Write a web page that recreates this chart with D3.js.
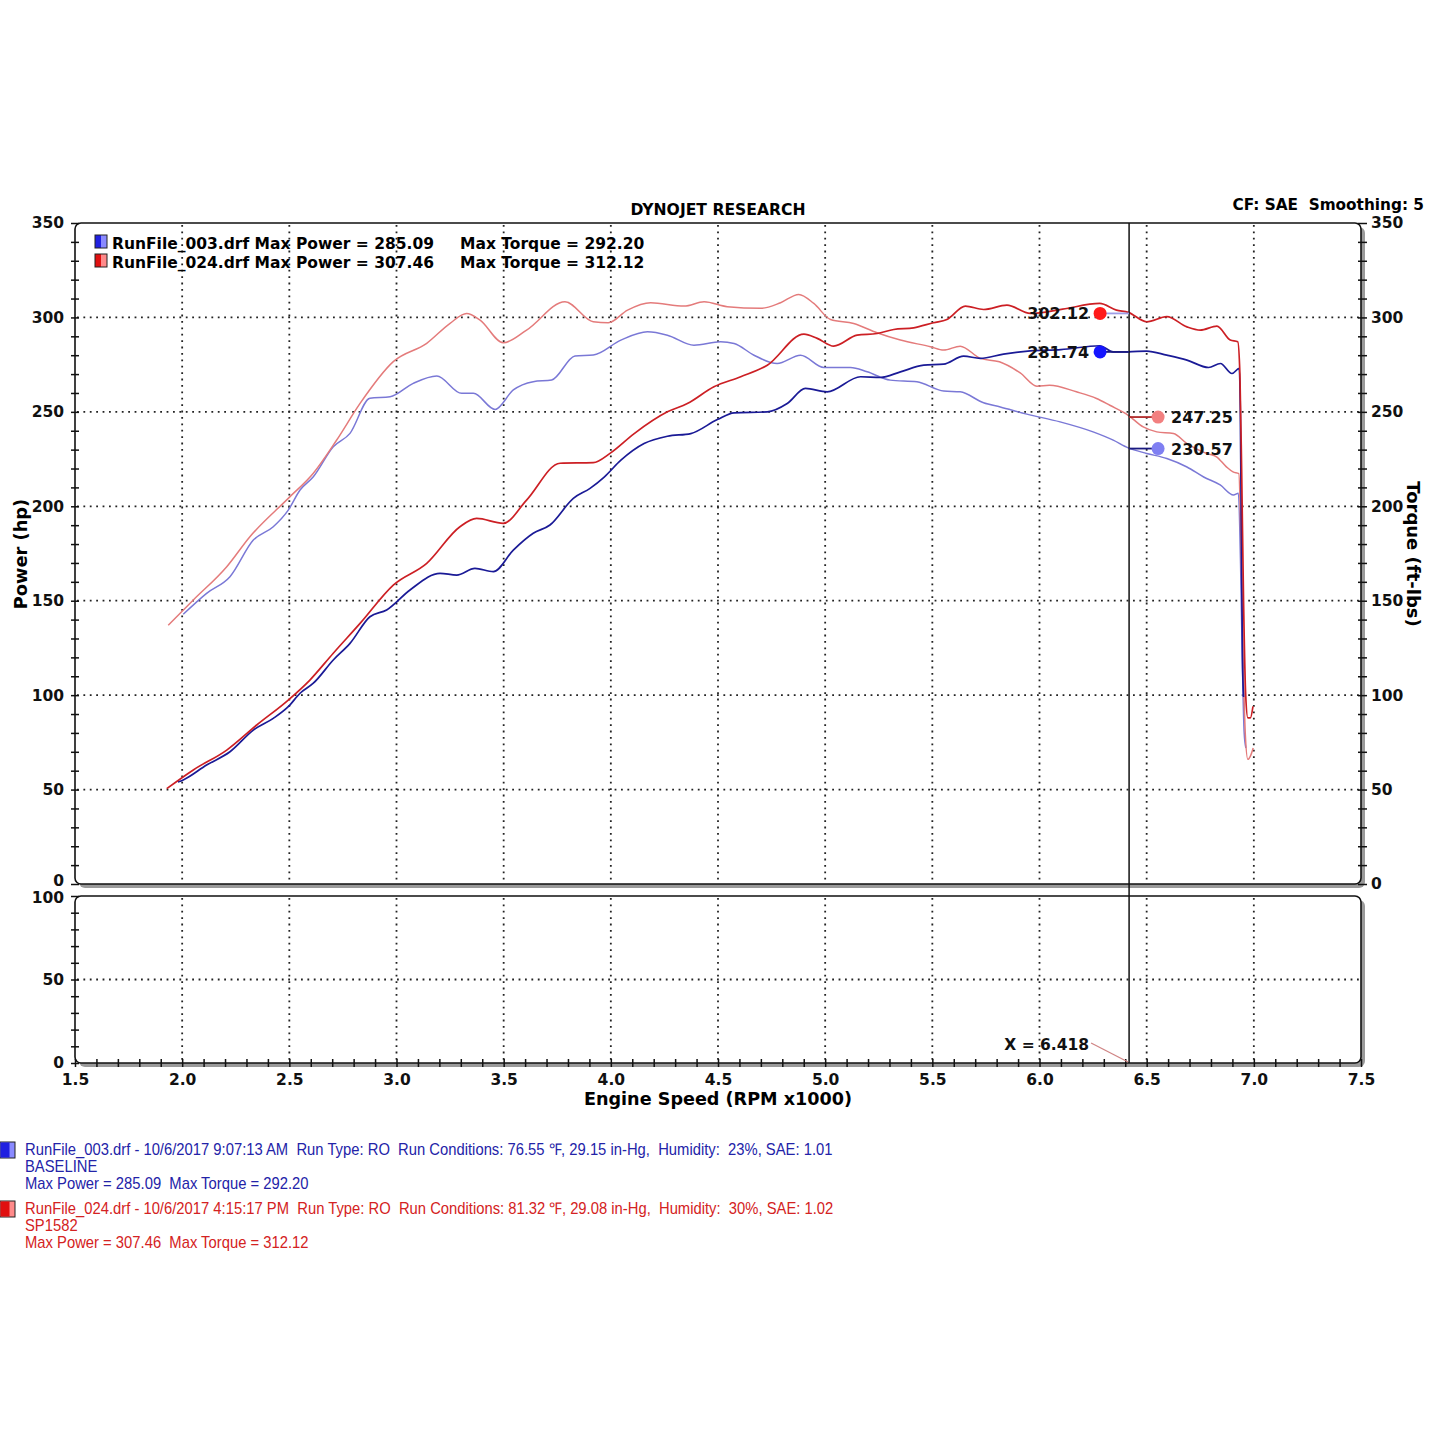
<!DOCTYPE html>
<html>
<head>
<meta charset="utf-8">
<script src="https://cdn.jsdelivr.net/npm/d3@7"></script>
<style>
  body { margin: 0; background: #fff; }
  text { font-family: "DejaVu Sans", Verdana, sans-serif; }
  .note { font-family: "Liberation Sans Narrow", "Arial Narrow", "Liberation Sans", sans-serif; font-size: 16px; }
</style>
</head>
<body>
<div id="chart"></div>
<script>
// values (rpm x1000, hp / ft-lbs)
var runNames = ["RunFile_003.drf", "RunFile_024.drf"];
var maxPower = [285.09, 307.46];
var maxTorque = [292.20, 312.12];
var cursorRpm = 6.418;
var cursorPower = [281.74, 302.12];
var cursorTorque = [230.57, 247.25];

var bluePower = [[1.98,54],[2.005,55.1],[2.114,63],[2.223,70],[2.332,81.5],[2.425,87.7],[2.495,93.9],[2.55,101],
  [2.612,106.3],[2.705,118.6],[2.783,127.4],[2.876,141.5],[2.954,145.1],[3.063,155.7],[3.203,164.5],[3.281,163.6],
  [3.366,167.1],[3.452,165.4],[3.545,176.8],[3.638,185.7],[3.716,190.1],[3.825,204.2],[3.903,209.5],[3.969,215.5],
  [4.047,224.4],[4.155,233.2],[4.264,237.1],[4.373,238.5],[4.497,245.9],[4.575,249.5],[4.73,250],[4.823,254.4],
  [4.908,262.4],[5.009,260.6],[5.165,268.6],[5.258,268.2],[5.351,271.2],[5.46,274.7],[5.553,275.3],[5.646,279.5],
  [5.724,278.3],[5.832,280.6],[5.957,282.3],[6.1,283],[6.281,285],[6.344,281.8],[6.414,281.8],[6.5,282.2],
  [6.594,280],[6.688,277.4],[6.789,273.5],[6.844,275.6],[6.898,270.3],[6.932,273],[6.937,250],[6.942,180],
  [6.947,120],[6.952,99]];

var redPower = [[1.928,50.5],[2.052,60.4],[2.208,70.9],[2.348,84.2],[2.495,97.4],[2.596,108],[2.705,122.2],
  [2.83,138],[2.985,158.3],[3.141,169.8],[3.296,189.2],[3.374,193.6],[3.498,191],[3.607,203.3],[3.763,222.8],
  [3.918,223.1],[3.996,228],[4.109,238.5],[4.264,250],[4.357,254.4],[4.481,263.3],[4.606,268.6],[4.73,274.7],
  [4.901,291.2],[4.963,288.9],[5.04,284.8],[5.149,290.6],[5.242,291.5],[5.32,293.6],[5.413,294.5],[5.506,297.2],
  [5.568,298.9],[5.654,306],[5.739,304.2],[5.848,306.5],[5.957,302.1],[6.108,304.4],[6.281,307.4],[6.359,303.9],
  [6.414,302.7],[6.5,297.7],[6.594,300.4],[6.688,295],[6.75,293.3],[6.828,295.4],[6.89,288],[6.925,287.1],
  [6.935,270],[6.943,220],[6.952,150],[6.962,100],[6.972,88],[6.984,88],[6.996,94]];

var blueTorque = [[2.005,142.8],[2.114,153.9],[2.223,162.7],[2.332,182.1],[2.425,189.2],[2.495,198],[2.55,208.6],
  [2.612,215.6],[2.705,231.5],[2.783,238.6],[2.876,257.2],[2.97,258],[3.078,265.1],[3.188,269],[3.304,259.8],
  [3.359,259.8],[3.46,251.3],[3.545,261.6],[3.638,266],[3.724,266.9],[3.833,279.6],[3.918,280.1],[4.047,288],
  [4.171,292.4],[4.264,290.6],[4.388,285.3],[4.512,287.1],[4.575,286.2],[4.668,280],[4.776,275.6],[4.885,280],
  [4.994,273.5],[5.118,273.5],[5.196,271.2],[5.304,266.8],[5.428,265.9],[5.553,261],[5.63,260.6],[5.739,254.8],
  [5.817,252.6],[5.941,248.8],[6.096,244.7],[6.25,239.4],[6.344,235],[6.414,230.9],[6.5,228],[6.594,225.3],
  [6.688,220.8],[6.766,215.5],[6.843,211.3],[6.905,206],[6.928,206.9],[6.938,170],[6.946,120],[6.955,80],
  [6.963,72]];

var redTorque = [[1.935,137],[2.052,150.4],[2.208,168],[2.316,183.9],[2.495,204.2],[2.612,217.5],[2.721,235.1],
  [2.83,254.5],[2.985,276.6],[3.141,286.3],[3.25,296.9],[3.327,302.1],[3.39,298.6],[3.498,286.6],[3.607,293.3],
  [3.786,308.3],[3.918,297.7],[3.988,297.2],[4.078,303.9],[4.186,307.8],[4.342,306],[4.435,308.3],[4.543,305.7],
  [4.699,304.8],[4.792,307.8],[4.877,312.2],[4.947,307.4],[5.025,298.9],[5.133,296.8],[5.242,291.9],[5.351,288],
  [5.491,284.5],[5.553,282.7],[5.63,284.8],[5.724,278.3],[5.813,276.5],[5.91,270.6],[5.988,263.6],[6.047,264.1],
  [6.172,260.6],[6.266,257.1],[6.328,253.5],[6.414,248.2],[6.484,242],[6.547,239.4],[6.625,238.5],[6.688,233.2],
  [6.781,227.9],[6.826,226.2],[6.872,220.9],[6.903,218.2],[6.93,217.3],[6.94,180],[6.95,120],[6.96,80],
  [6.972,66],[6.985,68],[6.997,72]];

var xTicks = [1.5, 2.0, 2.5, 3.0, 3.5, 4.0, 4.5, 5.0, 5.5, 6.0, 6.5, 7.0, 7.5];

var notesBlue = ["RunFile_003.drf - 10/6/2017 9:07:13 AM  Run Type: RO  Run Conditions: 76.55 \u2109, 29.15 in-Hg,  Humidity:  23%, SAE: 1.01",
  "BASELINE", "Max Power = 285.09  Max Torque = 292.20"];
var notesRed = ["RunFile_024.drf - 10/6/2017 4:15:17 PM  Run Type: RO  Run Conditions: 81.32 \u2109, 29.08 in-Hg,  Humidity:  30%, SAE: 1.02",
  "SP1582", "Max Power = 307.46  Max Torque = 312.12"];

var svgWidth = 1445, svgHeight = 1445;
var left = 75, right = 1361;
var topY = 223, topBottom = 884;
var lowTop = 896, lowBottom = 1063;

var svg = d3.select("#chart").append("svg")
  .attr("width", svgWidth)
  .attr("height", svgHeight)
  .style("background", "#fff");

var x = d3.scaleLinear().domain([1.5, 7.5]).range([left, right]);
var yTop = d3.scaleLinear().domain([0, 350]).range([topBottom, topY]);
var yLow = d3.scaleLinear().domain([0, 100]).range([lowBottom, lowTop]);

// panel frames with grey drop shadow
function panel(y0, y1) {
  svg.append("rect").attr("x", left + 4).attr("y", y0 + 4)
    .attr("width", right - left).attr("height", y1 - y0)
    .attr("rx", 6).attr("fill", "#9a9a9a");
  svg.append("rect").attr("x", left).attr("y", y0)
    .attr("width", right - left).attr("height", y1 - y0)
    .attr("rx", 6).attr("fill", "#fff").attr("stroke", "#111").attr("stroke-width", 1.6);
}
panel(topY, topBottom);
panel(lowTop, lowBottom);

// dotted grid
var grid = svg.append("g").attr("stroke", "#222").attr("stroke-width", 1.8).attr("stroke-dasharray", "1.8,4.6");
xTicks.slice(1, -1).forEach(function(t) {
  grid.append("line").attr("x1", x(t)).attr("x2", x(t)).attr("y1", topY + 2).attr("y2", topBottom - 1);
  grid.append("line").attr("x1", x(t)).attr("x2", x(t)).attr("y1", lowTop + 2).attr("y2", lowBottom - 1);
});
[50, 100, 150, 200, 250, 300].forEach(function(v) {
  grid.append("line").attr("x1", left + 2).attr("x2", right - 2).attr("y1", yTop(v)).attr("y2", yTop(v));
});
grid.append("line").attr("x1", left + 2).attr("x2", right - 2).attr("y1", yLow(50)).attr("y2", yLow(50));

// axes
function styleAxis(g, crossAttr, size) {
  g.select(".domain").remove();
  g.selectAll(".tick line").attr("stroke", "#111").attr("stroke-width", 1.5).attr(crossAttr, size);
  g.selectAll(".tick text").attr("fill", "#111").style("font-size", "15.5px").style("font-weight", "bold")
    .style("font-family", "'DejaVu Sans', Verdana, sans-serif");
}
var tickFmt = function(d) { return d % 50 === 0 ? d : ""; };

var leftTop = svg.append("g").attr("transform", "translate(" + left + ",0)")
  .call(d3.axisLeft(yTop).tickValues(d3.range(0, 351, 10)).tickSize(4).tickPadding(7).tickFormat(tickFmt));
styleAxis(leftTop, "x1", 4);
leftTop.selectAll(".tick text").filter(function(d) { return d === 0; }).attr("dy", "0.1em");

var rightTop = svg.append("g").attr("transform", "translate(" + (right + 2) + ",0)")
  .call(d3.axisRight(yTop).tickValues(d3.range(0, 351, 10)).tickSize(4).tickPadding(4).tickFormat(tickFmt));
styleAxis(rightTop, "x1", -5);

var leftLow = svg.append("g").attr("transform", "translate(" + left + ",0)")
  .call(d3.axisLeft(yLow).tickValues(d3.range(0, 101, 10)).tickSize(4).tickPadding(7).tickFormat(tickFmt));
styleAxis(leftLow, "x1", 4);
leftLow.selectAll(".tick text").filter(function(d) { return d === 100; }).attr("dy", "0.45em");

var bottom = svg.append("g").attr("transform", "translate(0," + lowBottom + ")")
  .call(d3.axisBottom(x).tickValues(d3.range(15, 76, 1).map(function(d) { return d / 10; }))
    .tickSize(4).tickPadding(6)
    .tickFormat(function(d) { return Math.round(d * 10) % 5 === 0 ? d.toFixed(1) : ""; }));
styleAxis(bottom, "y1", -4);
bottom.selectAll(".tick text").attr("dy", "0.78em");

// curves
var line = d3.line()
  .x(function(d) { return x(d[0]); })
  .y(function(d) { return yTop(d[1]); })
  .curve(d3.curveMonotoneX);

var curves = [
  { data: blueTorque, color: "#7a78d6", w: 1.5 },
  { data: redTorque, color: "#e47b7b", w: 1.5 },
  { data: bluePower, color: "#1a1a96", w: 1.7 },
  { data: redPower, color: "#cc1f24", w: 1.7 }
];
curves.forEach(function(c) {
  svg.append("path").datum(c.data).attr("d", line)
    .attr("fill", "none").attr("stroke", c.color).attr("stroke-width", c.w);
});

// cursor line
var cx = x(cursorRpm);
svg.append("line").attr("x1", cx).attr("x2", cx).attr("y1", topY).attr("y2", lowBottom)
  .attr("stroke", "#111").attr("stroke-width", 1.5);

// cursor readouts
var readouts = [
  { v: cursorPower[1], dot: "#ff1a1a", lead: "#9d9de6", side: -1 },
  { v: cursorPower[0], dot: "#1515ff", lead: "#1a1a80", side: -1 },
  { v: cursorTorque[1], dot: "#f28080", lead: "#b02a2a", side: 1 },
  { v: cursorTorque[0], dot: "#7f7ff2", lead: "#1a1a80", side: 1 }
];
readouts.forEach(function(r) {
  var yy = yTop(r.v);
  var dx = cx + r.side * 29;
  svg.append("line").attr("x1", cx).attr("x2", dx).attr("y1", yy).attr("y2", yy)
    .attr("stroke", r.lead).attr("stroke-width", 1.8);
  svg.append("circle").attr("cx", dx).attr("cy", yy).attr("r", 6.5).attr("fill", r.dot);
  svg.append("text").attr("x", r.side < 0 ? dx - 11 : dx + 13).attr("y", yy + 6)
    .attr("text-anchor", r.side < 0 ? "end" : "start")
    .style("font-size", "16px").style("font-weight", "bold").attr("fill", "#111")
    .text(r.v.toFixed(2));
});

// lower panel cursor label
svg.append("line").attr("x1", cx - 38).attr("x2", cx - 1).attr("y1", 1043).attr("y2", lowBottom - 1)
  .attr("stroke", "#d08585").attr("stroke-width", 1.3);
svg.append("text").attr("x", cx - 40).attr("y", 1050).attr("text-anchor", "end")
  .style("font-size", "15.5px").style("font-weight", "bold").attr("fill", "#111")
  .text("X = " + cursorRpm.toFixed(3));

// titles
svg.append("text").attr("x", 718).attr("y", 215).attr("text-anchor", "middle")
  .style("font-size", "15.6px").style("font-weight", "bold").text("DYNOJET RESEARCH");
svg.append("text").attr("x", 1424).attr("y", 210).attr("text-anchor", "end")
  .style("font-size", "15.3px").style("font-weight", "bold").style("white-space", "pre")
  .text("CF: SAE  Smoothing: 5");
svg.append("text").attr("transform", "translate(27,554) rotate(-90)").attr("text-anchor", "middle")
  .style("font-size", "17.8px").style("font-weight", "bold").text("Power (hp)");
svg.append("text").attr("transform", "translate(1407,554) rotate(90)").attr("text-anchor", "middle")
  .style("font-size", "18px").style("font-weight", "bold").text("Torque (ft-lbs)");
svg.append("text").attr("x", 718).attr("y", 1105).attr("text-anchor", "middle")
  .style("font-size", "17.6px").style("font-weight", "bold").text("Engine Speed (RPM x1000)");

// top legend
var legendColors = [["#2020e0", "#8a8aff"], ["#e01010", "#ff8a8a"]];
runNames.forEach(function(name, i) {
  var yy = 249 + i * 19;
  svg.append("rect").attr("x", 95).attr("y", yy - 14).attr("width", 6).attr("height", 13).attr("fill", legendColors[i][0]);
  svg.append("rect").attr("x", 101).attr("y", yy - 14).attr("width", 6).attr("height", 13).attr("fill", legendColors[i][1]);
  svg.append("rect").attr("x", 95).attr("y", yy - 14).attr("width", 12).attr("height", 13)
    .attr("fill", "none").attr("stroke", "#222").attr("stroke-width", 1);
  svg.append("text").attr("x", 112).attr("y", yy)
    .style("font-size", "15.5px").style("font-weight", "bold")
    .text(name + " Max Power = " + maxPower[i].toFixed(2));
  svg.append("text").attr("x", 460).attr("y", yy)
    .style("font-size", "15.5px").style("font-weight", "bold")
    .text("Max Torque = " + maxTorque[i].toFixed(2));
});

// run notes below the chart (condensed face)
function notes(lines, y0, color, boxColors) {
  svg.append("rect").attr("x", 0).attr("y", y0 - 13).attr("width", 15).attr("height", 16).attr("fill", boxColors[1])
    .attr("stroke", "#222").attr("stroke-width", 1);
  svg.append("rect").attr("x", 0.5).attr("y", y0 - 12.5).attr("width", 9).attr("height", 15).attr("fill", boxColors[0]);
  var g = svg.append("g").attr("transform", "translate(25," + y0 + ") scale(0.925,1)");
  lines.forEach(function(t, i) {
    g.append("text").attr("class", "note").attr("x", 0).attr("y", i * 17)
      .attr("fill", color).style("white-space", "pre").text(t);
  });
}
notes(notesBlue, 1155, "#2323a8", legendColors[0]);
notes(notesRed, 1214, "#d42222", legendColors[1]);
</script>
</body>
</html>
